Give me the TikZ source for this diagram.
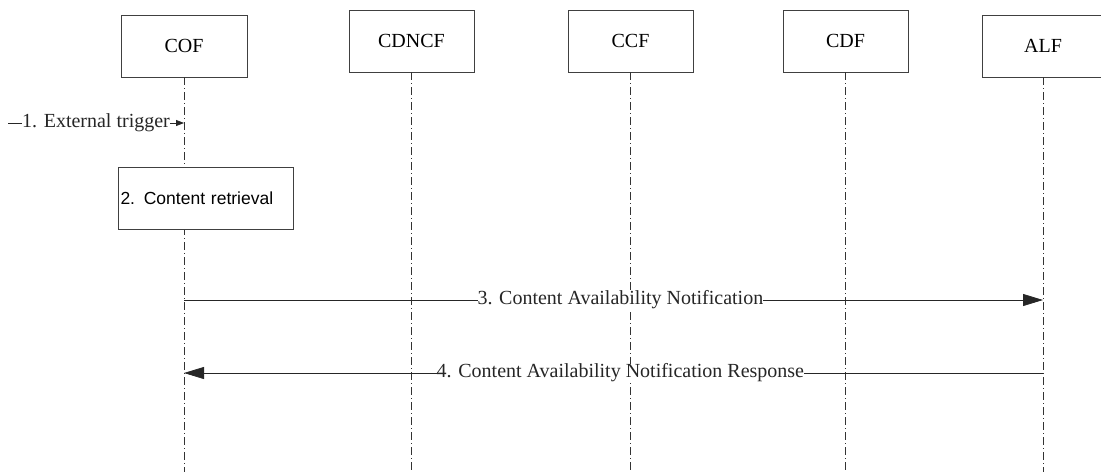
\documentclass[tikz,border=0pt]{standalone}
\usepackage{fontspec}
\setmainfont{Liberation Serif}
\newfontfamily\arialf{Liberation Sans}
\usetikzlibrary{arrows.meta}
\begin{document}
\begin{tikzpicture}[x=1pt,y=-1pt,
 entity/.style={draw=black!75, line width=0.8pt, fill=white, minimum width=125pt, minimum height=62pt, inner sep=0pt, font=\fontsize{20}{24}\selectfont},
 lifeline/.style={black!80, line width=0.6pt, dash pattern=on 8pt off 3pt on 1pt off 3pt},
 msg/.style={black!85, line width=0.8pt},
 lbl/.style={fill=white, inner sep=0pt, font=\fontsize{20}{24}\selectfont},
 procbox/.style={draw=black!75, line width=0.8pt, fill=white, minimum height=62pt, text width=170pt, inner xsep=2.5pt, align=left, font=\arialf\fontsize{17.5}{21}\selectfont}
]
\useasboundingbox (0,0) rectangle (1101,472);
\node[entity, minimum width=126pt] (cof) at (184,46) {COF};
\node[entity] (cdncf) at (411.5,41) {CDNCF};
\node[entity] (ccf) at (630.5,41) {CCF};
\node[entity] (cdf) at (845.5,41) {CDF};
\node[entity, minimum width=122pt] (alf) at (1043,46) {ALF};
\coordinate (bottom) at (0,472);
\foreach \n in {cof,cdncf,ccf,cdf,alf}
  \draw[lifeline] (\n.south) -- (\n.south |- bottom);
\node[procbox] (cr) at (205.5,198) {2. Content retrieval};
\coordinate (ext) at (8,123);
\draw[msg,-{Triangle[length=8pt,width=6pt]}] (ext) -- (ext -| cof)
  node[lbl, pos=0.5] {1. External trigger};
\coordinate (y3) at (0,300);
\coordinate (y4) at (0,373);
\draw[msg,-{Triangle[length=20pt,width=12pt]}] (cof |- y3) -- (alf |- y3)
  node[lbl, pos=0.508] {3. Content Availability Notification};
\draw[msg,-{Triangle[length=20pt,width=12pt]}] (alf |- y4) -- (cof |- y4)
  node[lbl, pos=0.492] {4. Content Availability Notification Response};
\end{tikzpicture}
\end{document}
